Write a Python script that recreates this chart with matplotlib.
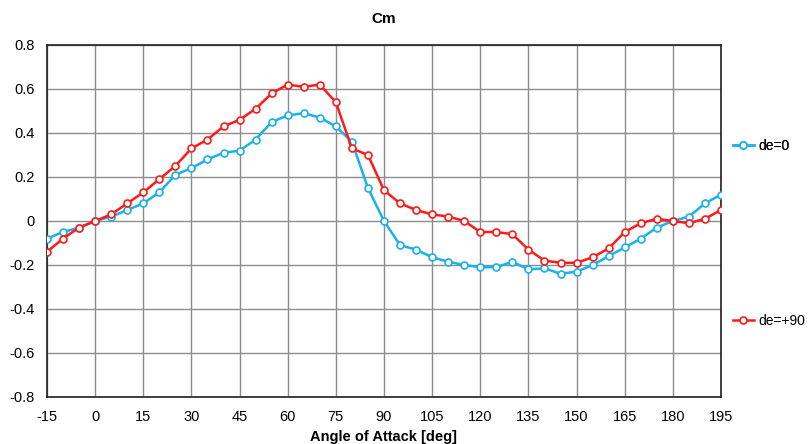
import matplotlib.pyplot as plt
from matplotlib.lines import Line2D

plt.rcParams['font.family'] = ['Liberation Sans', 'DejaVu Sans']

aoa = list(range(-15, 200, 5))
cm_de0 = [-0.08, -0.05, -0.03, 0.00, 0.02, 0.05, 0.08, 0.13, 0.21, 0.24,
          0.28, 0.31, 0.32, 0.37, 0.45, 0.48, 0.49, 0.47, 0.43, 0.36,
          0.15, 0.00, -0.11, -0.13, -0.165, -0.185, -0.20, -0.21, -0.21, -0.185,
          -0.22, -0.215, -0.24, -0.23, -0.20, -0.16, -0.12, -0.08, -0.03, 0.00,
          0.02, 0.08, 0.12]
cm_de90 = [-0.14, -0.08, -0.03, 0.00, 0.03, 0.08, 0.13, 0.19, 0.25, 0.33,
           0.37, 0.43, 0.46, 0.51, 0.58, 0.62, 0.61, 0.62, 0.54, 0.33,
           0.30, 0.14, 0.08, 0.05, 0.03, 0.02, 0.00, -0.05, -0.05, -0.06,
           -0.13, -0.18, -0.19, -0.19, -0.165, -0.125, -0.05, -0.01, 0.01, 0.00,
           -0.01, 0.01, 0.05]
xticks = list(range(-15, 196, 15))
yticks = [-0.8, -0.6, -0.4, -0.2, 0, 0.2, 0.4, 0.6, 0.8]
ytick_labels = ['-0.8', '-0.6', '-0.4', '-0.2', '0', '0.2', '0.4', '0.6', '0.8']

c_blue = '#1AB2EA'
c_red = '#FF1A1A'

fig = plt.figure(figsize=(8.08, 4.44), dpi=100)
ax = fig.add_axes([47/808, 1-397/444, (721-47)/808, (397-45)/444])

ax.plot(aoa, cm_de0, color=c_blue, lw=1.8, marker='o', ms=5,
        mfc='white', mec=c_blue, mew=1.2, zorder=3)
ax.plot(aoa, cm_de90, color=c_red, lw=1.8, marker='o', ms=5,
        mfc='white', mec=c_red, mew=1.2, zorder=3)

ax.set_xlim(-15, 195)
ax.set_ylim(-0.8, 0.8)
ax.set_xticks(xticks)
ax.set_xticklabels([str(t) for t in xticks], fontsize=10.5)
ax.set_yticks(yticks)
ax.set_yticklabels(ytick_labels, fontsize=10.5)
ax.tick_params(length=0, pad=9)
ax.grid(True, color='#8c8c8c', lw=1)
for s in ax.spines.values():
    s.set_color('#202020')
    s.set_linewidth(1.2)

ax.set_title('Cm', fontsize=11, fontweight='bold', pad=16)
ax.set_xlabel('Angle of Attack [deg]', fontsize=10.5, fontweight='bold', labelpad=5)

h0 = Line2D([], [], color=c_blue, lw=1.8, marker='o', ms=5, mfc='white', mec=c_blue, mew=1.2)
h90 = Line2D([], [], color=c_red, lw=1.8, marker='o', ms=5, mfc='white', mec=c_red, mew=1.2)
leg_kw = dict(loc='center left', frameon=False, fontsize=10, handlelength=1.5,
              handletextpad=0.3, borderpad=0, borderaxespad=0, numpoints=1)
leg1 = fig.legend([h0], ['de=0'], bbox_to_anchor=(733/808, 1-146/444), **leg_kw)
fig.add_artist(leg1)
fig.legend([h90], ['de=+90'], bbox_to_anchor=(733/808, 1-321/444), **leg_kw)

fig.savefig('out.png', dpi=100)
